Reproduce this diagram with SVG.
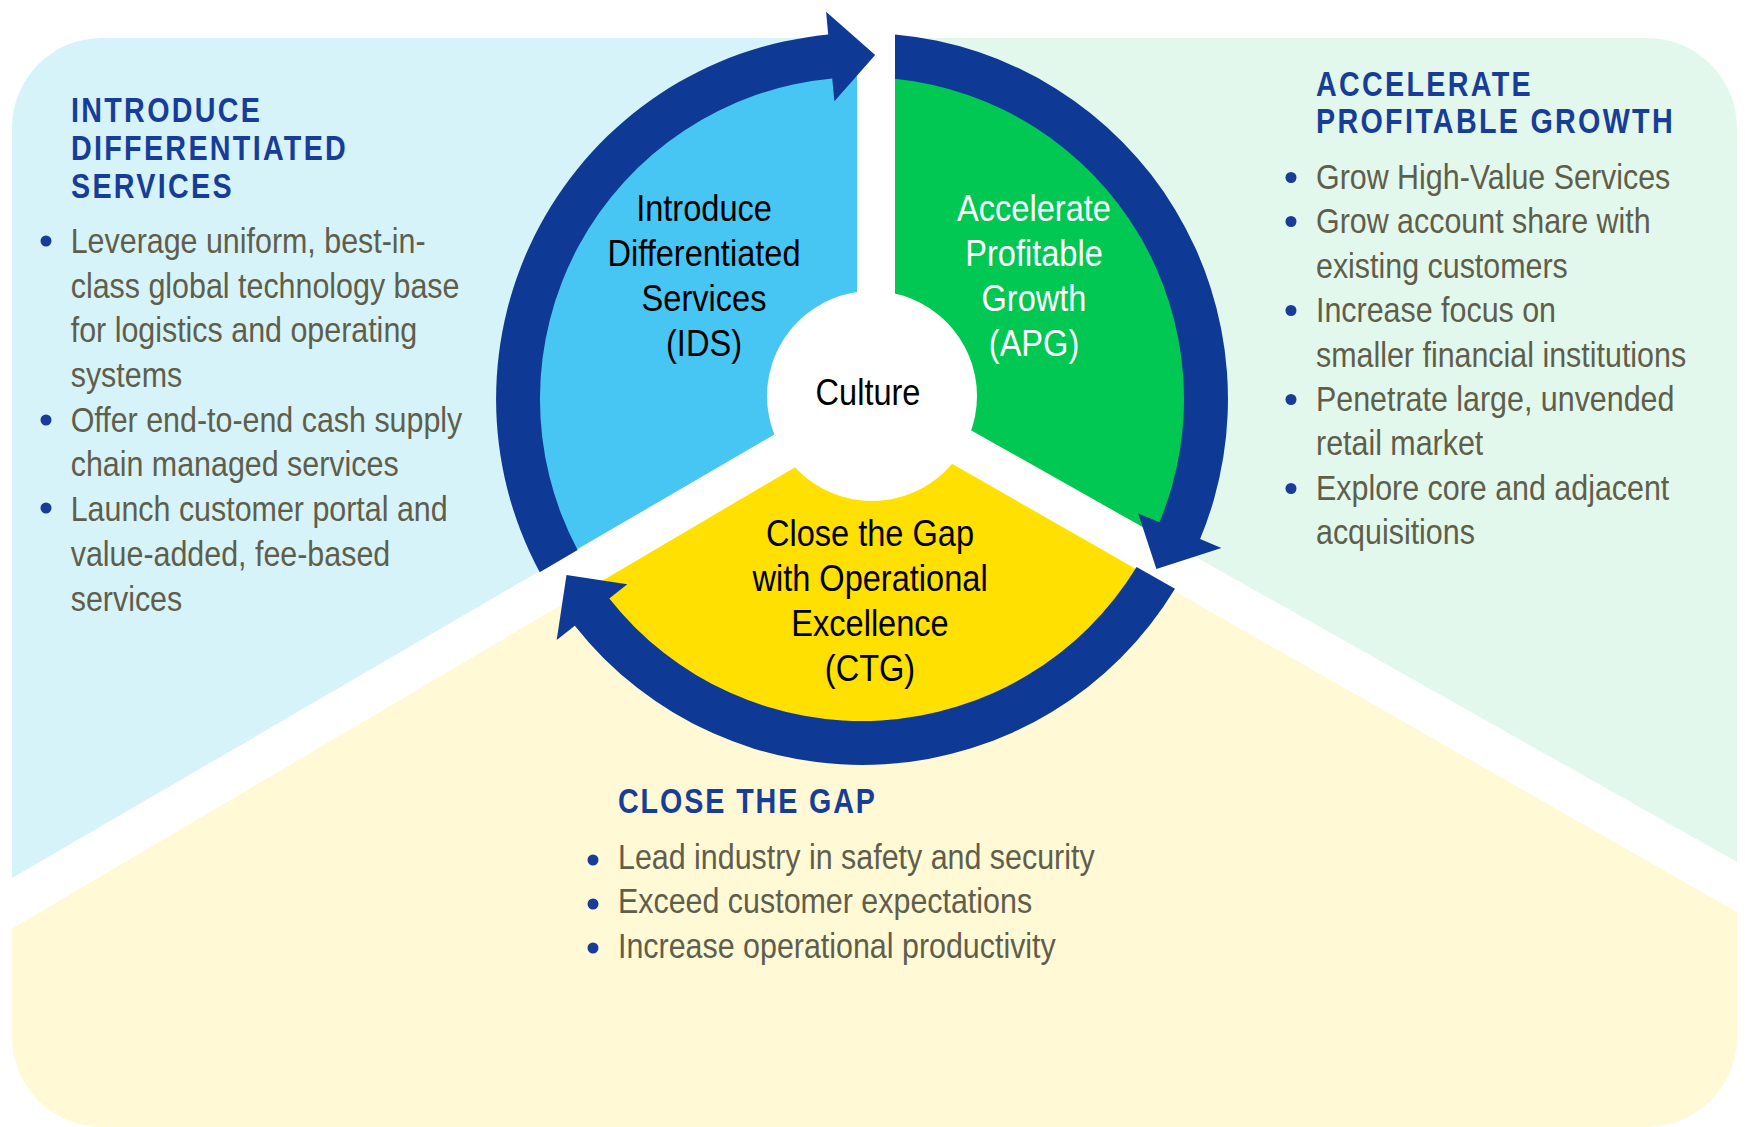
<svg xmlns="http://www.w3.org/2000/svg" width="1745" height="1127" viewBox="0 0 1745 1127">
  <defs>
    <style>
      .head { font-family: "Liberation Sans", Arial, sans-serif; font-size: 35px; font-weight: bold; fill: #173D98; letter-spacing: 2.8px; }
      .body { font-family: "Liberation Sans", Arial, sans-serif; font-size: 36px; fill: #5F5E4B; }
      .label { font-family: "Liberation Sans", Arial, sans-serif; font-size: 37px; fill: #000000; text-anchor: middle; }
      .label.light { fill: #FFFFFF; }
      .bullet { fill: #173D98; }
      .ring { fill: #0E3A96; }
      .spoke { fill: #FFFFFF; }
    </style>
    <clipPath id="panelClip">
      <rect x="12" y="38" width="1725" height="1089" rx="90" ry="90"/>
    </clipPath>
    <clipPath id="discClip">
      <circle cx="862" cy="399" r="323"/>
    </clipPath>
    <filter id="soft" x="-5%" y="-5%" width="110%" height="110%">
      <feGaussianBlur stdDeviation="2.5"/>
    </filter>
    <!-- three regions meeting at the hub -->
    <polygon id="regionLeft" points="875,398 875,-10 -10,-10 -10,916"/>
    <polygon id="regionRight" points="875,398 875,-10 1755,-10 1755,893"/>
    <polygon id="regionBottom" points="875,398 -10,916 -10,1137 1755,1137 1755,893"/>
  </defs>

  <rect x="0" y="0" width="1745" height="1127" fill="#FFFFFF"/>

  <!-- pale backdrop panel -->
  <g id="backdrop" clip-path="url(#panelClip)" filter="url(#soft)">
    <use href="#regionLeft" fill="#D6F3FA"/>
    <use href="#regionRight" fill="#E2F8EC"/>
    <use href="#regionBottom" fill="#FFF9D6"/>
  </g>

  <!-- coloured wheel sectors -->
  <g id="ids-sector" clip-path="url(#discClip)">
    <use href="#regionLeft" fill="#48C6F3"/>
  </g>
  <g id="apg-sector" clip-path="url(#discClip)">
    <use href="#regionRight" fill="#00C853"/>
  </g>
  <g id="ctg-sector" clip-path="url(#discClip)">
    <use href="#regionBottom" fill="#FFE000"/>
  </g>

  <!-- white spokes dividing the regions -->
  <g id="spokes">
    <rect class="spoke" x="857" y="-10" width="38" height="410"/>
    <polygon class="spoke" points="865.4,381.6 884.6,414.4 -28.9,952.8 -51.1,914.8"/>
    <polygon class="spoke" points="884.3,381.4 865.7,414.6 1779.2,936.3 1800.8,897.9"/>
  </g>

  <!-- hub -->
  <g id="culture">
    <circle cx="872" cy="396" r="105" fill="#FFFFFF"/>
    <g transform="translate(868,0) scale(0.88,1)">
      <text class="label" x="0" y="405.5">Culture</text>
    </g>
  </g>

  <!-- cycle arrows around the wheel -->
  <g id="connectors">
    <path id="arrow-ids-apg" class="ring" d="M 539.7 572.3 A 366 366 0 0 1 828.2 34.6 L 826.1 11.7 L 875.2 55 L 834.4 101.3 L 832.2 78.4 A 322 322 0 0 0 577.6 550.1 Z"/>
    <path id="arrow-apg-ctg" class="ring" d="M 895 34.5 A 366 366 0 0 1 1200.1 539.1 L 1221.4 547.9 L 1156.4 569 L 1138.2 513.4 L 1159.5 522.2 A 322 322 0 0 0 895 78.7 Z"/>
    <path id="arrow-ctg-ids" class="ring" d="M 1175 588.7 A 366 366 0 0 1 574.8 625.8 L 556.7 640.1 L 566.5 575.1 L 627.3 584.3 L 609.3 598.6 A 322 322 0 0 0 1136.6 567.1 Z"/>
  </g>

  <!-- sector labels -->
  <g id="ids-label" transform="translate(704,0) scale(0.88,1)">
    <text class="label" x="0" y="221">Introduce</text>
    <text class="label" x="0" y="266">Differentiated</text>
    <text class="label" x="0" y="311">Services</text>
    <text class="label" x="0" y="356">(IDS)</text>
  </g>
  <g id="apg-label" transform="translate(1034,0) scale(0.88,1)">
    <text class="label light" x="0" y="221">Accelerate</text>
    <text class="label light" x="0" y="266">Profitable</text>
    <text class="label light" x="0" y="311">Growth</text>
    <text class="label light" x="0" y="356">(APG)</text>
  </g>
  <g id="ctg-label" transform="translate(870,0) scale(0.88,1)">
    <text class="label" x="0" y="546.5">Close the Gap</text>
    <text class="label" x="0" y="591.5">with Operational</text>
    <text class="label" x="0" y="636.5">Excellence</text>
    <text class="label" x="0" y="681">(CTG)</text>
  </g>

  <!-- left column: introduce differentiated services -->
  <g id="ids-panel">
    <g transform="translate(71,0) scale(0.82,1)">
      <text class="head" x="0" y="122">INTRODUCE</text>
      <text class="head" x="0" y="160">DIFFERENTIATED</text>
      <text class="head" x="0" y="198">SERVICES</text>
    </g>
    <circle class="bullet" cx="46" cy="241" r="5.5"/>
    <circle class="bullet" cx="46" cy="420" r="5.5"/>
    <circle class="bullet" cx="46" cy="508" r="5.5"/>
    <g transform="translate(70.7,0) scale(0.845,1)">
      <text class="body" x="0" y="253">Leverage uniform, best-in-</text>
      <text class="body" x="0" y="297.7">class global technology base</text>
      <text class="body" x="0" y="342.4">for logistics and operating</text>
      <text class="body" x="0" y="387.1">systems</text>
      <text class="body" x="0" y="431.8">Offer end-to-end cash supply</text>
      <text class="body" x="0" y="476.5">chain managed services</text>
      <text class="body" x="0" y="521.2">Launch customer portal and</text>
      <text class="body" x="0" y="565.9">value-added, fee-based</text>
      <text class="body" x="0" y="610.6">services</text>
    </g>
  </g>

  <!-- right column: accelerate profitable growth -->
  <g id="apg-panel">
    <g transform="translate(1316,0) scale(0.82,1)">
      <text class="head" x="0" y="95.7">ACCELERATE</text>
      <text class="head" x="0" y="132.8">PROFITABLE GROWTH</text>
    </g>
    <circle class="bullet" cx="1291" cy="177.5" r="5.5"/>
    <circle class="bullet" cx="1291" cy="221.5" r="5.5"/>
    <circle class="bullet" cx="1291" cy="310.5" r="5.5"/>
    <circle class="bullet" cx="1291" cy="399.5" r="5.5"/>
    <circle class="bullet" cx="1291" cy="488.5" r="5.5"/>
    <g transform="translate(1316,0) scale(0.845,1)">
      <text class="body" x="0" y="189">Grow High-Value Services</text>
      <text class="body" x="0" y="233.4">Grow account share with</text>
      <text class="body" x="0" y="277.8">existing customers</text>
      <text class="body" x="0" y="322.2">Increase focus on</text>
      <text class="body" x="0" y="366.6">smaller financial institutions</text>
      <text class="body" x="0" y="411">Penetrate large, unvended</text>
      <text class="body" x="0" y="455.4">retail market</text>
      <text class="body" x="0" y="499.8">Explore core and adjacent</text>
      <text class="body" x="0" y="544.2">acquisitions</text>
    </g>
  </g>

  <!-- bottom column: close the gap -->
  <g id="ctg-panel">
    <g transform="translate(618,0) scale(0.82,1)">
      <text class="head" x="0" y="813" style="letter-spacing:2.3px">CLOSE THE GAP</text>
    </g>
    <circle class="bullet" cx="593" cy="860" r="5.5"/>
    <circle class="bullet" cx="593" cy="904" r="5.5"/>
    <circle class="bullet" cx="593" cy="948" r="5.5"/>
    <g transform="translate(618,0) scale(0.845,1)">
      <text class="body" x="0" y="869">Lead industry in safety and security</text>
      <text class="body" x="0" y="913.5">Exceed customer expectations</text>
      <text class="body" x="0" y="958">Increase operational productivity</text>
    </g>
  </g>
</svg>
